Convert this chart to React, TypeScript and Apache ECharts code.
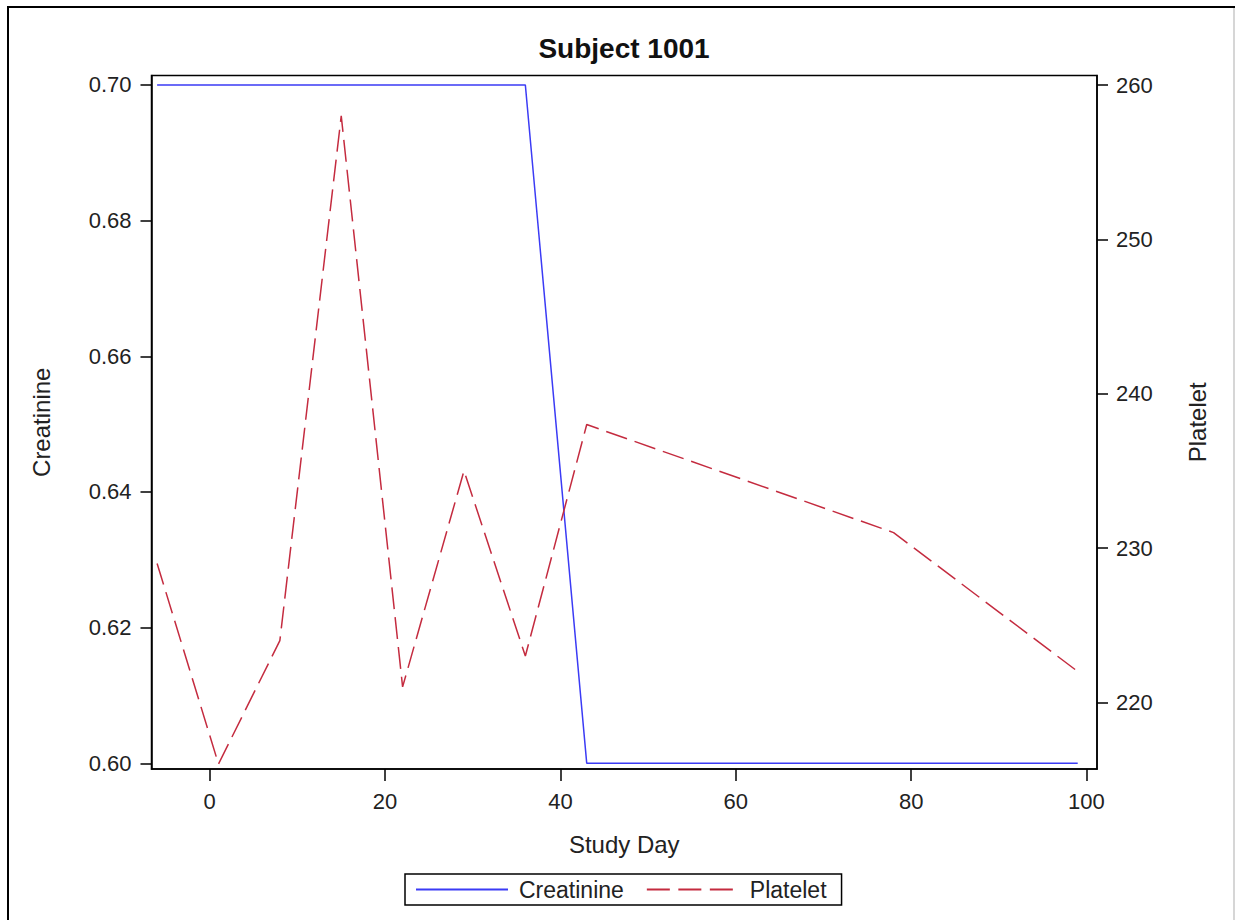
import React, { useEffect, useRef } from "react";
import * as echarts from "echarts";

const studyDays = [-6, 1, 8, 15, 22, 29, 36, 43, 78, 99];
const creatinine = [0.7, 0.7, 0.7, 0.7, 0.7, 0.7, 0.7, 0.6, 0.6, 0.6];
const platelet = [229, 216, 224, 258, 221, 235, 223, 238, 231, 222];
const xTicks = [0, 20, 40, 60, 80, 100];
const leftTicks = [0.6, 0.62, 0.64, 0.66, 0.68, 0.7];
const rightTicks = [220, 230, 240, 250, 260];

const FONT = "'Liberation Sans', Arial, sans-serif";
const BLUE = "#3b3bf5";
const RED = "#c42b3f";

export default function App() {
  const ref = useRef<HTMLDivElement>(null);
  useEffect(() => {
    if (!ref.current) return;
    const chart = echarts.init(ref.current, undefined, { renderer: "svg" });
    const axisCommon = {
      axisLine: { show: true, onZero: false, lineStyle: { color: "#000", width: 1.5 } },
      axisTick: { show: true, inside: false, length: 11, lineStyle: { color: "#000", width: 1.5 } },
      splitLine: { show: false },
      nameLocation: "middle" as const,
      nameTextStyle: { fontFamily: FONT, fontSize: 24, color: "#222" },
    };
    chart.setOption({
      animation: false,
      backgroundColor: "#fff",
      title: {
        text: "Subject 1001",
        left: 619,
        textAlign: "center",
        top: 29,
        textStyle: { fontFamily: FONT, fontSize: 28, fontWeight: "bold", color: "#111" },
      },
      grid: {
        left: 151.5,
        right: 138,
        top: 75.5,
        bottom: 151,
        show: true,
        borderColor: "#000",
        borderWidth: 1.5,
        backgroundColor: "transparent",
      },
      legend: {
        left: 405,
        bottom: 15,
        orient: "horizontal",
        borderColor: "#000",
        borderWidth: 1.5,
        padding: [4, 15, 4, 10],
        itemWidth: 92,
        itemHeight: 14,
        itemGap: 22,
        itemStyle: { opacity: 0 },
        textStyle: { fontFamily: FONT, fontSize: 23, color: "#222", padding: [0, 0, 0, 6] },
        data: [
          { name: "Creatinine", itemStyle: { opacity: 0 } },
          { name: "Platelet", itemStyle: { opacity: 0 }, lineStyle: { type: [23, 8.5] } },
        ],
      },
      xAxis: {
        type: "value",
        min: -6.64,
        max: 101.2,
        name: "Study Day",
        nameGap: 63,
        ...axisCommon,
        axisTick: { ...axisCommon.axisTick, length: 12, customValues: xTicks },
        axisLabel: {
          customValues: xTicks,
          margin: 21,
          fontFamily: FONT,
          fontSize: 22,
          color: "#222",
        },
      },
      yAxis: [
        {
          type: "value",
          position: "left",
          min: 0.59916,
          max: 0.7014,
          name: "Creatinine",
          nameGap: 98,
          nameRotate: 90,
          ...axisCommon,
          axisTick: { ...axisCommon.axisTick, customValues: leftTicks },
          axisLabel: {
            customValues: leftTicks,
            margin: 20,
            fontFamily: FONT,
            fontSize: 22,
            color: "#222",
            formatter: (v: number) => v.toFixed(2),
          },
        },
        {
          type: "value",
          position: "right",
          min: 215.68,
          max: 260.62,
          name: "Platelet",
          nameGap: 88,
          nameRotate: 90,
          ...axisCommon,
          axisTick: { ...axisCommon.axisTick, customValues: rightTicks },
          axisLabel: {
            customValues: rightTicks,
            margin: 19,
            fontFamily: FONT,
            fontSize: 22,
            color: "#222",
          },
        },
      ],
      series: [
        {
          name: "Creatinine",
          type: "line",
          yAxisIndex: 0,
          symbol: "none",
          data: studyDays.map((d, i) => [d, creatinine[i]]),
          lineStyle: { color: BLUE, width: 1.5, type: "solid" },
          itemStyle: { color: BLUE },
        },
        {
          name: "Platelet",
          type: "line",
          yAxisIndex: 1,
          symbol: "none",
          data: studyDays.map((d, i) => [d, platelet[i]]),
          lineStyle: { color: RED, width: 1.5, type: [22, 8] },
          itemStyle: { color: RED },
        },
      ],
      graphic: [
        { type: "line", shape: { x1: 7, y1: 7, x2: 1235, y2: 7 }, style: { stroke: "#000", lineWidth: 2 } },
        { type: "line", shape: { x1: 8, y1: 6, x2: 8, y2: 920 }, style: { stroke: "#000", lineWidth: 2 } },
        { type: "line", shape: { x1: 1234, y1: 8, x2: 1234, y2: 920 }, style: { stroke: "#c8c8c8", lineWidth: 1.5 } },
      ],
    });
    return () => chart.dispose();
  }, []);
  return (
    <div
      ref={ref}
      style={{ position: "absolute", left: 0, top: 0, width: 1235, height: 920 }}
    />
  );
}
